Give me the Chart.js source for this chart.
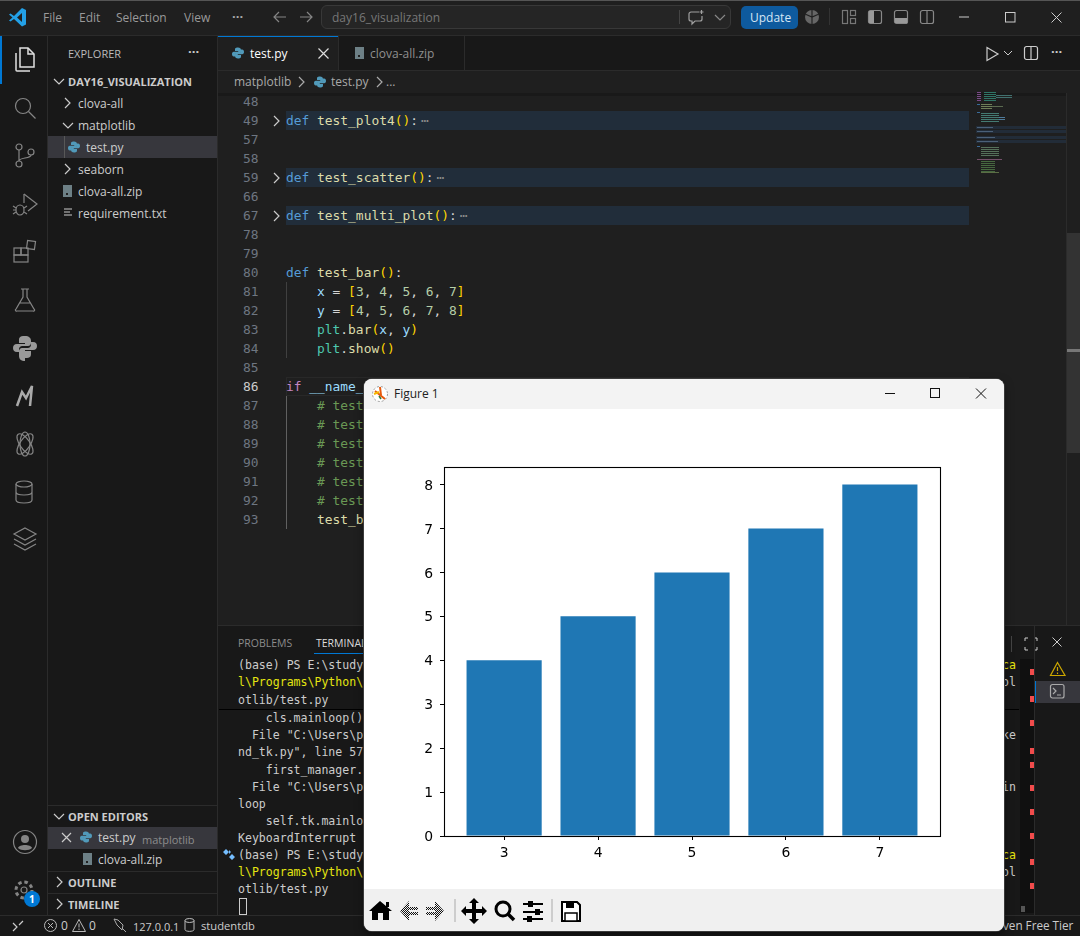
<!DOCTYPE html>
<html>
<head>
<meta charset="utf-8">
<title>Figure 1</title>
<script src="https://cdn.jsdelivr.net/npm/chart.js@4"></script>
<style>
html,body{margin:0;padding:0;background:#1f1f1f;overflow:hidden}
#app{position:absolute;left:0;top:0;width:1080px;height:936px;overflow:hidden;font-family:"Open Sans",sans-serif;font-size:12px;color:#ccc}
.box{position:absolute}
.t{position:absolute;white-space:pre;transform:translateY(-50%);line-height:1}
.code{font-family:"DejaVu Sans Mono",monospace;font-size:12.9px;color:#d4d4d4}
.term{font-family:"DejaVu Sans Mono",monospace;font-size:11.55px;color:#ccc}
svg.i{position:absolute;overflow:visible;fill:none;stroke:#858585;stroke-width:1.2}
.k{color:#569cd6}.f{color:#dcdcaa}.b{color:#ffd700}.v{color:#9cdcfe}.n{color:#b5cea8}.c{color:#4ec9b0}.g{color:#6a9955}.m{color:#c586c0}.d{color:#8a8a8a;margin-left:3px}
#win{position:absolute;left:364px;top:379px;width:640px;height:552px;background:#fff;border-radius:8px;overflow:hidden;box-shadow:0 0 0 1px #3a3a3a,0 4px 10px rgba(0,0,0,.5)}
#winTitle{position:absolute;left:0;top:0;width:640px;height:30px;background:#f3f3f3}
#plot{position:absolute;left:0;top:30px;width:640px;height:480px}
#toolbar{position:absolute;left:0;top:510px;width:640px;height:42px;background:#f0f0f0}
</style>
</head>
<body>
<div id="app"></div>
<div id="win" style="z-index:5">
  <div id="winTitle">
    <svg style="position:absolute;left:7px;top:6px" width="18" height="18" viewBox="0 0 18 18"><circle cx="9" cy="9" r="7.5" fill="#fff" stroke="#999" stroke-dasharray="2 2"/><path d="M4 6l10 8M9 2l1 8" stroke="#e8590c" stroke-width="2"/><path d="M3 9l5-2" stroke="#f5b800" stroke-width="2"/><path d="M8 11l2 3" stroke="#2c7a3f" stroke-width="1.5"/></svg>
    <div class="t" style="left:30px;top:15px;font-family:'Open Sans';font-size:12px;color:#222">Figure 1</div>
    <svg style="position:absolute;left:515px;top:8px" width="120" height="14" stroke="#111" fill="none" stroke-width="1"><path d="M6 6.5h10"/><rect x="51.5" y="1.5" width="9" height="9"/><path d="M97 1.5l10 10M107 1.5l-10 10"/></svg>
  </div>
  <div id="plot"><canvas id="barChart" width="640" height="480"></canvas></div>
  <div id="toolbar">
    <svg width="640" height="42">
      <defs><pattern id="dith" width="2" height="2" patternUnits="userSpaceOnUse"><rect width="2" height="2" fill="#f0f0f0"/><rect width="1" height="1" fill="#111"/><rect x="1" y="1" width="1" height="1" fill="#111"/></pattern></defs>
      <path d="M16 12L5 22h3v9h6v-7h5v7h6v-9h3z" fill="#000"/><path d="M22 13h3v5h-3z" fill="#000"/>
      <path d="M45 12L36 22l9 10v-6h9v-3h-9v-2h9v-3h-9z" fill="url(#dith)"/>
      <path d="M71 12l9 10-9 10v-6h-9v-3h9v-2h-9v-3h9z" fill="url(#dith)"/>
      <line x1="91" y1="10" x2="91" y2="33" stroke="#aaa"/>
      <path d="M110 9l5 5h-3v6h6v-3l5 5-5 5v-3h-6v6h3l-5 5-5-5h3v-6h-6v3l-5-5 5-5v3h6v-6h-3z" fill="#000"/>
      <circle cx="139" cy="20" r="7" fill="none" stroke="#000" stroke-width="3"/><path d="M144 25l6 6" stroke="#000" stroke-width="3.5"/>
      <g stroke="#000" stroke-width="2"><path d="M159 15h20M159 23h20M159 30h20"/></g><g fill="#000"><rect x="164" y="12" width="5" height="6"/><rect x="171" y="20" width="5" height="6"/><rect x="163" y="27" width="5" height="6"/></g>
      <line x1="188" y1="10" x2="188" y2="33" stroke="#aaa"/>
      <path d="M198 13h15l3 3v16h-18z" fill="#fff" stroke="#000" stroke-width="2"/><rect x="202" y="13" width="8" height="6" fill="#000"/><rect x="201" y="24" width="12" height="8" fill="#fff" stroke="#000" stroke-width="1.5"/>
    </svg>
  </div>
</div>
<script>
// values
const xValues = [3, 4, 5, 6, 7];
const yValues = [4, 5, 6, 7, 8];
const xTicks = [3, 4, 5, 6, 7];
const yTicks = [0, 1, 2, 3, 4, 5, 6, 7, 8];

const app = document.getElementById('app');

function box(x, y, w, h, bg) {
    const d = document.createElement('div');
    d.className = 'box';
    d.style.cssText = `left:${x}px;top:${y}px;width:${w}px;height:${h}px;background:${bg}`;
    app.appendChild(d);
    return d;
}
function text(x, y, html, css, cls) {
    const d = document.createElement('div');
    d.className = 't ' + (cls || '');
    d.style.cssText = `left:${x}px;top:${y}px;` + (css || '');
    d.innerHTML = html;
    app.appendChild(d);
    return d;
}
function icon(x, y, w, h, inner, css) {
    const s = document.createElementNS('http://www.w3.org/2000/svg', 'svg');
    s.setAttribute('class', 'i');
    s.setAttribute('width', w);
    s.setAttribute('height', h);
    s.setAttribute('viewBox', `0 0 ${w} ${h}`);
    s.style.cssText = `left:${x}px;top:${y}px;` + (css || '');
    s.innerHTML = inner;
    app.appendChild(s);
}
const chevR = (x, y, c) => icon(x, y, 8, 12, '<path d="M2 1l5 5-5 5"/>', `stroke:${c || '#ccc'}`);
const chevD = (x, y, c) => icon(x, y, 12, 8, '<path d="M1 1l5 5 5-5"/>', `stroke:${c || '#ccc'}`);
const pyIcon = (x, y) => icon(x, y, 12, 12, '<path d="M6 0.5c-3 0-3 1-3 2.5v1h3.2v.7H1.8C.5 4.7 0 5.800 0 7s.6 2.500 1.800 2.500H3V8c0-1 1-1.800 2-1.800h2.500C8.500 6.200 9 5.500 9 4.500V3C9 1.500 8 .5 6 .5z" fill="#519aba" stroke="none"/><path d="M6 11.500c3 0 3-1 3-2.500V8H5.800v-.7h4.400C11.500 7.300 12 6.200 12 5s-.6-2.500-1.800-2.500H9V4c0 1-1 1.800-2 1.800H4.500C3.500 5.800 3 6.500 3 7.500V9c0 1.500 1 2.500 3 2.500z" fill="#519aba" stroke="none"/>');
const zipIcon = (x, y) => { box(x, y, 9, 12, '#6d8086'); box(x + 3, y + 8, 2, 2, '#222'); };
const stripes = (x, y, w, h, c) => box(x, y, w, h, `repeating-linear-gradient(${c} 0 1px, transparent 1px 2px)`);

// --- main regions ---
box(0, 0, 1080, 35, '#1f1f1f');
box(0, 0, 1080, 1, '#555');
box(0, 35, 1080, 1, '#2b2b2b');
box(0, 36, 47, 880, '#181818');
box(47, 36, 1, 880, '#2b2b2b');
box(48, 36, 169, 880, '#181818');
box(217, 36, 1, 880, '#2b2b2b');
box(218, 36, 862, 34, '#181818');
box(218, 70, 862, 1, '#2b2b2b');
box(218, 36, 120, 34, '#1f1f1f');
box(218, 36, 120, 1, '#0078d4');
box(338, 36, 1, 34, '#2b2b2b');
box(464, 36, 1, 34, '#2b2b2b');
box(218, 93, 862, 3, '#191919');
box(218, 625, 862, 290, '#181818');
box(218, 625, 862, 1, '#2b2b2b');
box(0, 915, 1080, 21, '#181818');
box(0, 915, 1080, 1, '#2b2b2b');

// --- title bar ---
icon(9, 7, 18, 20, '<path d="M13 1L5 9 1.500 6.500 0 7.500 3.500 10.500 0 13.500l1.500 1L5 12l8 7.500 4-2V3z" fill="#23a0e6" stroke="none"/><path d="M13 6l-5 4.500 5 4.500z" fill="#1f1f1f" stroke="none"/>');
[['File', 43], ['Edit', 79], ['Selection', 116], ['View', 184]].forEach(m => text(m[1], 18, m[0], 'color:#9a9a9a;font-size:12px'));
text(232, 16, '···', 'color:#aaa;font-size:13px;font-weight:700');
icon(273, 11, 14, 12, '<path d="M13 6H1M6 1L1 6l5 5"/>');
icon(299, 11, 14, 12, '<path d="M1 6h12M8 1l5 5-5 5"/>');
const sb = box(321, 5, 410, 24, '#252525');
sb.style.border = '1px solid #383838'; sb.style.borderRadius = '6px'; sb.style.boxSizing = 'border-box';
text(332, 18, 'day16_visualization', 'color:#777;font-size:12px');
box(679, 10, 1, 14, '#444');
icon(688, 9, 17, 16, '<path d="M11 3H3a2 2 0 0 0-2 2v5a2 2 0 0 0 2 2h1v3l3-3h5a2 2 0 0 0 2-2V7"/><path d="M13.500 1v4M11.500 3h4"/>', 'stroke:#a0a0a0');
chevD(714, 14, '#888');
const up = box(741, 6, 57, 23, '#0e5a9e'); up.style.borderRadius = '5px';
text(750, 18, 'Update', 'color:#d5e6f5;font-size:12px');
icon(804, 9, 16, 16, '<circle cx="8" cy="8" r="7" fill="#666" stroke="none"/><path d="M8 1v14M1 5l7 3 7-3" stroke="#222"/>');
box(829, 8, 1, 17, '#333');
icon(842, 10, 15, 15, '<rect x=".5" y=".5" width="5" height="13"/><rect x="8.500" y=".5" width="5" height="5"/><rect x="8.500" y="8.500" width="5" height="5"/>', 'stroke:#777');
icon(868, 10, 15, 15, '<rect x=".5" y=".5" width="13" height="13" rx="2"/><rect x="1" y="1" width="5" height="12" fill="#999" stroke="none"/>', 'stroke:#888');
icon(894, 10, 15, 15, '<rect x=".5" y=".5" width="13" height="13" rx="2"/><rect x="1" y="8" width="12" height="5" fill="#999" stroke="none"/>', 'stroke:#888');
icon(920, 10, 15, 15, '<rect x=".5" y=".5" width="13" height="13" rx="2"/><path d="M7 1v12"/>', 'stroke:#888');
icon(958, 13, 12, 8, '<path d="M1 4h10"/>', 'stroke:#ccc;stroke-width:1');
icon(1005, 12, 11, 11, '<rect x=".5" y=".5" width="9.500" height="9.500"/>', 'stroke:#ccc;stroke-width:1');
icon(1051, 12, 11, 11, '<path d="M.5 .5l10 10M10.500 .5l-10 10"/>', 'stroke:#ccc;stroke-width:1');

// --- activity bar ---
box(0, 36, 2, 48, '#0078d4');
icon(13, 47, 24, 26, '<path d="M7 1h8l6 6v13H7z"/><path d="M15 1v6h6"/><path d="M3 6v17a1 1 0 0 0 1 1h13"/>', 'stroke:#e0e0e0;stroke-width:1.500');
icon(13, 96, 24, 24, '<circle cx="10" cy="10" r="7.500"/><path d="M15.500 15.500l7 7"/>');
icon(14, 143, 22, 26, '<circle cx="5" cy="4" r="3"/><circle cx="5" cy="21" r="3"/><circle cx="17" cy="9" r="3"/><path d="M5 7v11M17 12c0 4-12 2-12 6"/>');
icon(12, 192, 26, 26, '<path d="M12 2l13 10-9 7"/><path d="M12 2v9"/><ellipse cx="8" cy="18" rx="4" ry="5"/><path d="M1 14l3 2M1 22l3-2M15 14l-3 2M15 22l-3-2M1 18h3"/>');
icon(13, 240, 24, 24, '<rect x="1" y="8" width="7" height="7"/><rect x="8" y="8" width="7" height="7"/><rect x="1" y="15" width="14" height="7"/><rect x="14" y="1" width="8" height="8" transform="rotate(8 18 5)"/>');
icon(14, 288, 22, 24, '<path d="M7 1h8M9 1v8L2 21a1 1 0 0 0 1 2h16a1 1 0 0 0 1-2L13 9V1M5 15h12"/>');
icon(13, 335, 24, 24, '<path d="M12 1c-6 0-6 2-6 5v2h6v1H4c-3 0-4 2-4 4s1 4 4 4h2v-3c0-2 2-3 3-3h6c2 0 3-2 3-3V6c0-3-2-5-6-5z" fill="#999" stroke="none"/><path d="M12 23c6 0 6-2 6-5v-2h-6v-1h8c3 0 4-2 4-4s-1-4-4-4h-2v3c0 2-2 3-3 3H9c-2 0-3 2-3 3v5c0 3 2 5 6 5z" fill="#999" stroke="none"/>');
icon(14, 384, 22, 24, '<path d="M3 22L8 8l4 6 6-12-2 20" stroke="#aaa" stroke-width="2.500"/>');
icon(14, 430, 22, 28, '<ellipse cx="11" cy="14" rx="5" ry="12"/><ellipse cx="11" cy="14" rx="5" ry="12" transform="rotate(35 11 14)"/><ellipse cx="11" cy="14" rx="5" ry="12" transform="rotate(-35 11 14)"/>');
icon(15, 480, 20, 24, '<ellipse cx="9" cy="4" rx="8" ry="3"/><path d="M1 4v16c0 2 4 3 8 3s8-1 8-3V4M1 12c0 2 4 3 8 3s8-1 8-3"/>');
icon(12, 527, 26, 24, '<path d="M13 1l11 6-11 6L2 7z"/><path d="M2 12l11 6 11-6M2 17l11 6 11-6"/>');
icon(13, 830, 24, 24, '<circle cx="12" cy="12" r="11.500"/><circle cx="12" cy="9" r="4" fill="#858585" stroke="none"/><path d="M5 18c1-4 13-4 14 0-3 3-11 3-14 0z" fill="#858585" stroke="none"/>');
icon(14, 880, 22, 22, '<circle cx="10" cy="10" r="3"/><circle cx="10" cy="10" r="8" stroke-width="3" stroke-dasharray="3.500 2.800"/>');
const badge = box(24, 891, 16, 16, '#0078d4'); badge.style.borderRadius = '50%';
text(29, 899, '1', 'color:#fff;font-size:10px;font-weight:700');

// --- explorer ---
text(68, 52.5, 'EXPLORER', 'color:#bbb;font-size:11px');
text(188, 51, '···', 'color:#ccc;font-size:13px;font-weight:700');
chevD(53, 78);
text(68, 80.5, 'DAY16_VISUALIZATION', 'color:#ccc;font-size:11px;font-weight:700');
box(48, 136, 169, 22, '#37373d');
box(64, 136, 1, 22, '#585858');
chevR(63, 97); text(78, 104, 'clova-all');
chevD(62, 122); text(78, 126, 'matplotlib');
pyIcon(68, 141); text(86, 148, 'test.py');
chevR(63, 163); text(78, 170, 'seaborn');
zipIcon(63, 185); text(78, 192, 'clova-all.zip');
icon(64, 208, 10, 10, '<path d="M0 1h8M0 4h6M0 7h8"/>', 'stroke:#ccc');
text(78, 214, 'requirement.txt');

box(48, 805, 169, 1, '#2b2b2b');
chevD(53, 813);
text(68, 815.5, 'OPEN EDITORS', 'color:#ccc;font-size:11px;font-weight:700');
box(48, 827, 169, 22, '#37373d');
icon(61, 832, 12, 12, '<path d="M1 1l9 9M10 1l-9 9"/>', 'stroke:#ccc');
pyIcon(80, 831);
text(98, 838, 'test.py');
text(142, 838.5, 'matplotlib', 'color:#8c8c8c;font-size:11px');
zipIcon(83, 853); text(98, 860, 'clova-all.zip');
box(48, 871, 169, 1, '#2b2b2b');
chevR(55, 876); text(68, 881.5, 'OUTLINE', 'color:#ccc;font-size:11px;font-weight:700');
box(48, 893, 169, 1, '#2b2b2b');
chevR(55, 898); text(68, 903.5, 'TIMELINE', 'color:#ccc;font-size:11px;font-weight:700');

// --- tabs and breadcrumb ---
pyIcon(232, 47); text(250, 54, 'test.py', 'color:#fff');
icon(318, 48, 11, 11, '<path d="M.5 .5l10 10M10.500 .5l-10 10"/>', 'stroke:#ddd');
zipIcon(355, 47); text(370, 54, 'clova-all.zip', 'color:#8f8f8f');
icon(986, 46, 14, 16, '<path d="M1 1.500l11 6.500-11 6.500z"/>', 'stroke:#ccc');
icon(1003, 50, 10, 6, '<path d="M1 1l4 4 4-4"/>', 'stroke:#ccc;stroke-width:1');
icon(1024, 46, 14, 14, '<rect x=".5" y=".5" width="13" height="13" rx="2"/><path d="M7 1v12"/>', 'stroke:#ccc');
text(1051, 51, '···', 'color:#ccc;font-size:13px;font-weight:700');
text(234, 82, 'matplotlib', 'color:#a9a9a9');
chevR(297, 76, '#aaa');
pyIcon(314, 76); text(331, 82, 'test.py', 'color:#a9a9a9');
chevR(375, 76, '#aaa');
text(386, 82, '...', 'color:#a9a9a9');

// --- editor ---
const codeLines = [
    ['48', ''],
    ['49', '<span class="k">def</span> <span class="f">test_plot4</span><span class="b">()</span>:<span class="d">⋯</span>', 1],
    ['57', ''],
    ['58', ''],
    ['59', '<span class="k">def</span> <span class="f">test_scatter</span><span class="b">()</span>:<span class="d">⋯</span>', 1],
    ['66', ''],
    ['67', '<span class="k">def</span> <span class="f">test_multi_plot</span><span class="b">()</span>:<span class="d">⋯</span>', 1],
    ['78', ''],
    ['79', ''],
    ['80', '<span class="k">def</span> <span class="f">test_bar</span><span class="b">()</span>:'],
    ['81', '    <span class="v">x</span> = <span class="b">[</span><span class="n">3</span>, <span class="n">4</span>, <span class="n">5</span>, <span class="n">6</span>, <span class="n">7</span><span class="b">]</span>'],
    ['82', '    <span class="v">y</span> = <span class="b">[</span><span class="n">4</span>, <span class="n">5</span>, <span class="n">6</span>, <span class="n">7</span>, <span class="n">8</span><span class="b">]</span>'],
    ['83', '    <span class="c">plt</span>.<span class="f">bar</span><span class="b">(</span><span class="v">x</span>, <span class="v">y</span><span class="b">)</span>'],
    ['84', '    <span class="c">plt</span>.<span class="f">show</span><span class="b">()</span>'],
    ['85', ''],
    ['86', '<span class="m">if</span> <span class="v">__name__</span> == <span style="color:#ce9178">"__main__"</span>:'],
    ['87', '    <span class="g"># test_plot1()</span>'],
    ['88', '    <span class="g"># test_plot2()</span>'],
    ['89', '    <span class="g"># test_plot3()</span>'],
    ['90', '    <span class="g"># test_plot4()</span>'],
    ['91', '    <span class="g"># test_scatter()</span>'],
    ['92', '    <span class="g"># test_multi_plot()</span>'],
    ['93', '    <span class="f">test_bar</span><span class="b">()</span>']
];
codeLines.forEach((l, i) => {
    const y = 101.5 + 19 * i;
    if (l[2]) {
        box(286, y - 9.500, 683, 19, '#212d3a');
        chevR(272, y - 6, '#ccc');
    }
    if (l[0] === '86') {
        const cur = box(286, y - 9.500, 683, 19, 'transparent');
        cur.style.border = '1px solid #282828'; cur.style.boxSizing = 'border-box';
    }
    text(243, y, l[0], `color:${l[0] === '86' ? '#ccc' : '#6e7681'}`, 'code');
    if (l[1]) text(286, y, l[1], '', 'code');
});
box(286, 282, 1, 76, '#404040');
box(286, 396, 1, 133, '#606060');

// minimap, only thin rows of colour at text size
[127, 131, 137, 141].forEach(y => box(976, y - 1, 90, 3, '#222c38'));
stripes(977, 92, 4, 10, '#7a4a88');
stripes(984, 92, 12, 10, '#2f7566');
stripes(996, 95, 16, 3, '#41706e');
stripes(977, 104, 3, 2, '#3a6b99');
stripes(981, 104, 11, 6, '#6e7e58');
stripes(992, 106, 11, 2, '#5a6a50');
stripes(977, 112, 3, 2, '#3a6b99');
stripes(981, 113, 18, 9, '#447a72');
stripes(999, 117, 6, 3, '#4f7a99');
[127, 131, 137, 141].forEach((y, i) => stripes(977, y, [16, 16, 18, 21][i], 1, '#4a6078'));
stripes(977, 146, 3, 2, '#3a6b99');
stripes(981, 147, 18, 9, '#55705a');
stripes(977, 159, 25, 2, '#75506b');
stripes(981, 161, 14, 12, '#46673f');
stripes(981, 172, 18, 2, '#5b6d45');
box(1066, 93, 14, 532, '#1f1f1f');
box(1066, 93, 1, 532, '#2b2b2b');
box(1067, 233, 13, 220, '#333');
box(1067, 349, 13, 3, '#777');

// --- panel ---
text(238, 643, 'PROBLEMS', 'color:#8c8c8c;font-size:10.500px');
text(316, 643, 'TERMINAL', 'color:#ddd;font-size:10.500px');
box(314, 653, 60, 1, '#0078d4');
const termLines = [
    [665, '(base) PS E:\\study', '#ccc', 'ca', '#e5e510'],
    [682, 'l\\Programs\\Python\\', '#e5e510', 'ol', '#ccc'],
    [700, 'otlib/test.py', '#ccc'],
    [718, '    cls.mainloop()', '#ccc'],
    [735, '  File "C:\\Users\\p', '#ccc', 'ke', '#ccc'],
    [752, 'nd_tk.py", line 57', '#ccc'],
    [770, '    first_manager.', '#ccc'],
    [787, '  File "C:\\Users\\p', '#ccc', 'in', '#ccc'],
    [804, 'loop', '#ccc'],
    [821, '    self.tk.mainlo', '#ccc'],
    [838, 'KeyboardInterrupt', '#ccc'],
    [855, '(base) PS E:\\study', '#ccc', 'ca', '#e5e510'],
    [872, 'l\\Programs\\Python\\', '#e5e510', 'ol', '#ccc'],
    [889, 'otlib/test.py', '#ccc']
];
termLines.forEach(l => {
    text(238, l[0] + 1, l[1], `color:${l[2]}`, 'term');
    if (l[3]) text(1002, l[0] + 1, l[3], `color:${l[4]}`, 'term');
});
box(219, 709, 800, 1, '#000');
box(239, 898, 6, 15, 'transparent').style.border = '1px solid #ccc';
icon(223, 849, 12, 12, '<path d="M3 0l3 3-3 3-3-3zM9 5l3 3-3 3-3-3z" fill="#75beff" stroke="none"/><path d="M6 1l2 2-2 2" fill="#75beff" stroke="none"/>');
box(1011, 636, 1, 16, '#444');
icon(1025, 638, 12, 12, '<path d="M0 3V0h3M9 0h3v3M12 9v3H9M3 12H0V9"/>', 'stroke:#ccc;stroke-width:1');
icon(1052, 637, 10, 10, '<path d="M.5 .5l9 9M9.500 .5l-9 9"/>', 'stroke:#ccc;stroke-width:1');
// scrollbar strip with its red error marks
box(1020, 659, 14, 254, '#101010');
box(1034, 625, 1, 290, '#2b2b2b');
[672, 699, 723, 751, 765, 788, 812, 836, 862, 886].forEach(y => box(1030, y - 3, 4, 6, '#f14c4c'));
box(1021, 906, 4, 6, '#555');
box(1035, 681, 45, 22, '#37373d');
box(1035, 681, 1, 22, '#0078d4');
icon(1050, 662, 16, 14, '<path d="M7.500 .5L15 13.500H.5zM7.500 5v4M7.500 10.500v1.500"/>', 'stroke:#cca700');
icon(1050, 684, 15, 15, '<rect x=".5" y=".5" width="13.500" height="13.500" rx="2"/><path d="M3 4l3 3-3 3M7 11h4"/>', 'stroke:#aaa');

// --- status bar ---
icon(12, 920, 12, 12, '<path d="M1 3l4 4-4 4M11 1L7 5"/>', 'stroke:#ccc');
icon(44, 919, 13, 13, '<circle cx="6.500" cy="6.500" r="6"/><path d="M4 4l5 5M9 4l-5 5"/>', 'stroke:#bbb;stroke-width:1');
text(61, 926, '0', 'font-size:12px');
icon(72, 919, 14, 13, '<path d="M7 .5L13.500 12.500H.5zM7 4.500v4M7 9.500v1.500"/>', 'stroke:#bbb;stroke-width:1');
text(89, 926, '0', 'font-size:12px');
icon(113, 918, 16, 15, '<path d="M1 1l3 6 5 5 1-5-5-5zM9 10l4 4"/>', 'stroke:#aaa;stroke-width:1');
text(133, 926, '127.0.0.1', 'font-size:11px');
icon(184, 918, 11, 14, '<ellipse cx="5.500" cy="2.500" rx="4.500" ry="2"/><path d="M1 2.500v9c0 2.500 9 2.500 9 0v-9"/>', 'stroke:#bbb;stroke-width:1');
text(201, 926, 'studentdb', 'font-size:11.200px');
text(1003, 926, 'ven Free Tier', 'font-size:11.700px');

// --- the figure itself ---
const pairs = xValues.map((x, i) => ({ x: x, y: yValues[i] }));

const frame = {
    id: 'frame',
    afterDatasetsDraw(chart) {
        const a = chart.chartArea;
        const c = chart.ctx;
        c.save();
        c.strokeStyle = '#000';
        c.lineWidth = 1.1;
        c.strokeRect(a.left + .5, a.top + .5, a.right - a.left, a.bottom - a.top);
        c.restore();
    }
};

new Chart(document.getElementById('barChart'), {
    type: 'bar',
    data: {
        datasets: [{
            data: pairs,
            backgroundColor: '#1f77b4',
            categoryPercentage: 1,
            barPercentage: 0.8
        }]
    },
    options: {
        responsive: false,
        animation: false,
        events: [],
        layout: { padding: { left: 0, right: 64, top: 58, bottom: 0 } },
        plugins: { legend: { display: false }, tooltip: { enabled: false }, title: { display: false } },
        scales: {
            x: {
                type: 'linear',
                offset: false,
                min: 2.36,
                max: 7.64,
                afterBuildTicks(s) { s.ticks = xTicks.map(v => ({ value: v })); },
                afterFit(s) { s.height = 53; },
                grid: { offset: false, drawOnChartArea: false, drawTicks: true, tickLength: 4, tickColor: '#000', tickWidth: 1 },
                border: { display: false },
                ticks: {
                    color: '#000', autoSkip: false, maxRotation: 0, padding: 5,
                    font: { family: 'DejaVu Sans', size: 13.9 },
                    callback: v => String(v)
                }
            },
            y: {
                min: 0,
                max: 8.4,
                afterBuildTicks(s) { s.ticks = yTicks.map(v => ({ value: v })); },
                afterFit(s) { s.width = 80; },
                grid: { drawOnChartArea: false, drawTicks: true, tickLength: 4, tickColor: '#000', tickWidth: 1 },
                border: { display: false },
                ticks: {
                    color: '#000', padding: 7, labelOffset: 1.5,
                    font: { family: 'DejaVu Sans', size: 13.9 },
                    callback: v => String(v)
                }
            }
        }
    },
    plugins: [frame]
});
</script>
</body>
</html>
